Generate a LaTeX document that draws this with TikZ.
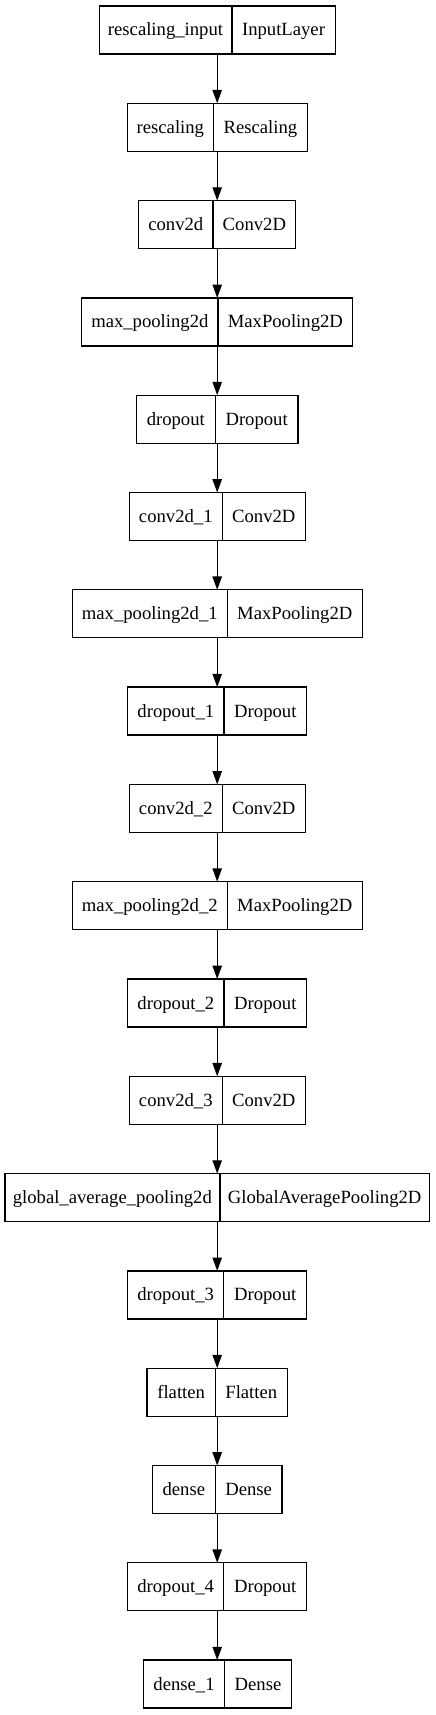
\documentclass[tikz,border=0pt]{standalone}
\usepackage{fontspec}
\setmainfont{Liberation Serif}
\usetikzlibrary{arrows.meta}
\newcommand{\layer}[7]{%
  \pgfmathsetmacro{\lyrtop}{6+97.3*#2}%
  \pgfmathsetmacro{\lyrw}{(#5-#3)*0.75}%
  \node[box, minimum width=\lyrw pt, anchor=north] (#1) at (217.2,\lyrtop) {};
  \draw[divline] (#1.north -| #4,0) -- (#1.south -| #4,0);
  \node[lbl] (#1a) at ({(#3+#4)/2},\lyrtop+30) {#6};
  \node[lbl] (#1b) at ({(#4+#5)/2},\lyrtop+30) {#7};
}
\begin{document}
\begin{tikzpicture}[x=0.75pt,y=-0.75pt,
  box/.style={draw=black, line width=1pt, inner sep=0pt, outer sep=0pt, minimum height=36pt},
  divline/.style={draw=black, line width=1pt},
  lbl/.style={inner sep=0pt, anchor=base, font=\fontsize{14}{17}\selectfont},
  arr/.style={line width=1pt, -{Triangle[length=10pt,width=7pt]}}]
\useasboundingbox (0,0) rectangle (435,1715);
\fill[white] (0,0) rectangle (435,1715);
\layer{L0}{0}{99}{232}{335}{rescaling\_input}{InputLayer}
\layer{L1}{1}{127}{213.7}{307}{rescaling}{Rescaling}
\layer{L2}{2}{138.7}{213}{295.7}{conv2d}{Conv2D}
\layer{L3}{3}{81.7}{218}{352.7}{max\_pooling2d}{MaxPooling2D}
\layer{L4}{4}{136.3}{215.3}{298}{dropout}{Dropout}
\layer{L5}{5}{129.3}{222.3}{305.3}{conv2d\_1}{Conv2D}
\layer{L6}{6}{72.3}{227.3}{362.3}{max\_pooling2d\_1}{MaxPooling2D}
\layer{L7}{7}{127.7}{224}{306.7}{dropout\_1}{Dropout}
\layer{L8}{8}{129.3}{222.3}{305.3}{conv2d\_2}{Conv2D}
\layer{L9}{9}{72.3}{227.3}{362.3}{max\_pooling2d\_2}{MaxPooling2D}
\layer{L10}{10}{127.7}{224}{306.7}{dropout\_2}{Dropout}
\layer{L11}{11}{129.3}{222.3}{305.3}{conv2d\_3}{Conv2D}
\layer{L12}{12}{4.7}{220}{429.3}{global\_average\_pooling2d}{GlobalAveragePooling2D}
\layer{L13}{13}{127.7}{223.7}{306.7}{dropout\_3}{Dropout}
\layer{L14}{14}{147}{215.3}{287.3}{flatten}{Flatten}
\layer{L15}{15}{152.3}{215.3}{282}{dense}{Dense}
\layer{L16}{16}{127.7}{223.7}{306.7}{dropout\_4}{Dropout}
\layer{L17}{17}{143.3}{224.7}{291.3}{dense\_1}{Dense}
\foreach \i [evaluate=\i as \j using int(\i+1)] in {0,...,16} {
  \draw[arr] (L\i) -- (L\j);
}
\end{tikzpicture}
\end{document}
